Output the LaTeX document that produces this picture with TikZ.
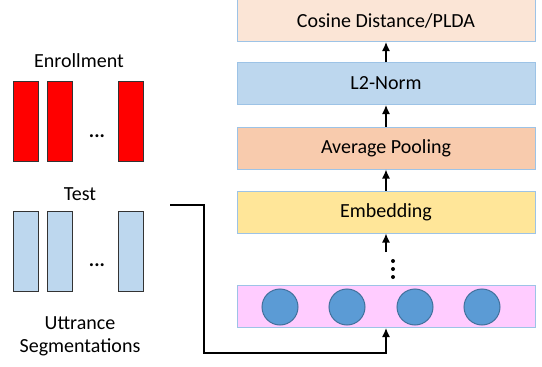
\documentclass[tikz,border=0pt]{standalone}
\usepackage{fontspec}
\setmainfont{Carlito}
\usepackage{tikz}
\usetikzlibrary{arrows.meta, positioning}

\definecolor{cosfill}{HTML}{FBE5D6}
\definecolor{normfill}{HTML}{BDD7EE}
\definecolor{poolfill}{HTML}{F8CBAD}
\definecolor{embfill}{HTML}{FFE699}
\definecolor{inpfill}{HTML}{FFCCFF}
\definecolor{layerline}{HTML}{9DC3E6}
\definecolor{unitfill}{HTML}{5B9BD5}
\definecolor{unitline}{HTML}{41719C}
\definecolor{segblue}{HTML}{BDD7EE}

\begin{document}
\begin{tikzpicture}[x=1pt, y=-1pt,
    font=\fontsize{20}{23}\selectfont,
    layer/.style={draw=layerline, line width=1pt, minimum width=298pt, minimum height=42pt, inner sep=0pt},
    unit/.style={circle, draw=unitline, fill=unitfill, line width=1pt, minimum size=36pt, inner sep=0pt},
    seg/.style={draw=black!80, line width=1pt, minimum width=25pt, minimum height=80pt, inner sep=0pt},
    flow/.style={line width=1.4pt, -{Latex[length=9pt,width=8pt]}}]
\useasboundingbox (0,0) rectangle (542,367);

% network stack
\node[layer, fill=cosfill] (cos) at (386,20.5) {Cosine Distance/PLDA};
\node[layer, fill=normfill] (norm) at (386,83.5) {L2-Norm};
\node[layer, fill=poolfill] (pool) at (386,148) {Average Pooling};
\node[layer, fill=embfill] (emb) at (386,212) {Embedding};
\node[layer, fill=inpfill] (inp) at (386,306.5) {};
\foreach \x [count=\i] in {280,347,415,482}
    \node[unit] (c\i) at (\x,307) {};

\foreach \y in {261,269,277}
    \fill (393,\y) circle (2pt);
\coordinate (dtop) at (386,252);

\draw[flow] (norm) -- (cos);
\draw[flow] (pool) -- (norm);
\draw[flow] (emb) -- (pool);
\draw[flow] (dtop) -- (emb);

% segments
\node (enr) at (79,61) {Enrollment};
\node[seg, fill=red] (e1) at (25.5,121) {};
\node[seg, fill=red] (e2) at (59.5,121) {};
\node[seg, fill=red] (e3) at (131,121) {};
\node[anchor=base, font=\fontsize{20}{23}\bfseries] (edots) at (97,137) {...};

\node (tst) at (80,194) {Test};
\node[seg, fill=segblue] (t1) at (25.5,251) {};
\node[seg, fill=segblue] (t2) at (59.5,251) {};
\node[seg, fill=segblue] (t3) at (131,251) {};
\node[anchor=base, font=\fontsize{20}{23}\bfseries] (tdots) at (97,266) {...};

\node[align=center] (utt) at (80,336) {Uttrance\\Segmentations};

\coordinate (tstart) at (170,205);
\coordinate (turn) at (204,353);
\draw[flow] (tstart) -| (turn) -| (inp.south);
\end{tikzpicture}
\end{document}
